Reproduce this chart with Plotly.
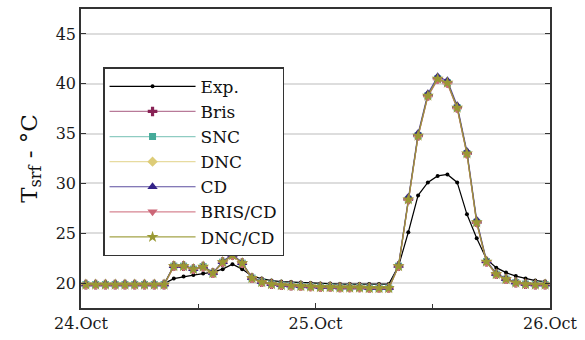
import pandas as pd
import plotly.graph_objects as go

# hourly samples (half-hour centred) from 24 Oct 00:30 to 25 Oct 23:30
times = pd.date_range("2023-10-24 00:30", periods=48, freq="h")

exp = [19.95]*9 + [20.45, 20.65, 20.8, 20.95, 21.1, 21.4, 21.9, 21.4, 20.7, 20.45,
       20.25, 20.15, 20.1, 20.05, 20.0, 19.95, 19.95, 19.9, 19.9, 19.9, 19.9, 19.9, 19.9,
       21.7, 25.1, 28.8, 30.1, 30.75, 30.9, 30.1, 26.9, 24.5, 22.4, 21.55, 21.05, 20.7,
       20.45, 20.25, 20.15]

bris = [19.85]*9 + [21.7, 21.7, 21.4, 21.65, 21.0, 22.1, 22.8, 22.0, 20.5, 20.1,
        19.9, 19.8, 19.75, 19.7, 19.65, 19.6, 19.6, 19.55, 19.55, 19.55, 19.5, 19.5, 19.5,
        21.7, 28.4, 34.8, 38.8, 40.5, 40.1, 37.6, 33.0, 26.1, 22.15, 20.9, 20.4, 20.05,
        19.9, 19.85, 19.85]
snc = [19.85]*9 + [21.7, 21.7, 21.4, 21.65, 21.0, 22.1, 22.8, 22.0, 20.5, 20.1,
       19.9, 19.8, 19.75, 19.7, 19.65, 19.6, 19.6, 19.55, 19.55, 19.55, 19.5, 19.5, 19.5,
       21.7, 28.4, 34.8, 38.8, 40.5, 40.1, 37.6, 33.0, 26.1, 22.15, 20.9, 20.4, 20.05,
       19.9, 19.85, 19.85]
dnc = [19.85]*9 + [21.7, 21.7, 21.4, 21.65, 21.0, 22.1, 22.8, 22.0, 20.5, 20.1,
       19.9, 19.8, 19.75, 19.7, 19.65, 19.6, 19.6, 19.55, 19.55, 19.55, 19.5, 19.5, 19.5,
       21.7, 28.4, 34.8, 38.8, 40.5, 40.1, 37.6, 33.0, 26.1, 22.15, 20.9, 20.4, 20.05,
       19.9, 19.85, 19.85]
cd = [19.9]*9 + [21.75, 21.75, 21.45, 21.7, 21.05, 22.15, 22.9, 22.05, 20.55, 20.15,
      19.95, 19.85, 19.8, 19.75, 19.7, 19.65, 19.65, 19.6, 19.6, 19.6, 19.55, 19.55, 19.55,
      21.8, 28.6, 35.0, 39.0, 40.7, 40.3, 37.8, 33.2, 26.3, 22.25, 20.95, 20.45, 20.1,
      19.95, 19.9, 19.9]
bris_cd = [19.8]*9 + [21.65, 21.65, 21.35, 21.6, 20.95, 22.05, 22.75, 21.95, 20.45, 20.05,
           19.85, 19.75, 19.7, 19.65, 19.6, 19.55, 19.55, 19.5, 19.5, 19.5, 19.45, 19.45, 19.45,
           21.65, 28.3, 34.7, 38.7, 40.4, 40.0, 37.5, 32.9, 26.0, 22.1, 20.85, 20.35, 20.0,
           19.85, 19.8, 19.8]
dnc_cd = [19.85]*9 + [21.7, 21.7, 21.4, 21.65, 21.0, 22.1, 22.8, 22.0, 20.5, 20.1,
          19.9, 19.8, 19.75, 19.7, 19.65, 19.6, 19.6, 19.55, 19.55, 19.55, 19.5, 19.5, 19.5,
          21.7, 28.4, 34.8, 38.8, 40.5, 40.1, 37.6, 33.0, 26.1, 22.15, 20.9, 20.4, 20.05,
          19.9, 19.85, 19.85]

series = [
    ("Exp.", exp, "#000000", "rgba(0,0,0,1)", "circle", 4),
    ("Bris", bris, "#882255", "rgba(136,34,85,0.6)", "cross", 8),
    ("SNC", snc, "#44AA99", "rgba(68,170,153,0.6)", "square", 7),
    ("DNC", dnc, "#DDCC77", "rgba(221,204,119,0.7)", "diamond", 8),
    ("CD", cd, "#332288", "rgba(51,34,136,0.8)", "triangle-up", 9),
    ("BRIS/CD", bris_cd, "#CC6677", "rgba(204,102,119,0.8)", "triangle-down", 9),
    ("DNC/CD", dnc_cd, "#999933", "rgba(153,153,51,0.9)", "star", 9),
]

fig = go.Figure()
for name, vals, mc, lc, sym, sz in series:
    fig.add_trace(go.Scatter(
        x=times, y=vals, name=name, mode="lines+markers",
        line=dict(color=lc, width=1.2),
        marker=dict(color=mc, symbol=sym, size=sz, line=dict(width=0)),
    ))

font_family = "DejaVu Serif"
fig.update_layout(
    width=585, height=340,
    margin=dict(l=81, r=35, t=7, b=30),
    paper_bgcolor="white", plot_bgcolor="white",
    font=dict(family=font_family, size=16, color="#1a1a1a"),
    showlegend=True,
    legend=dict(
        x=0.047, y=0.805, xanchor="left", yanchor="top",
        bgcolor="white", bordercolor="#333333", borderwidth=1.5,
        font=dict(family=font_family, size=17, color="#111111"),
        itemwidth=86, tracegroupgap=0,
    ),
)
fig.update_xaxes(
    range=[pd.Timestamp("2023-10-24"), pd.Timestamp("2023-10-26")],
    tickvals=[pd.Timestamp("2023-10-24"), pd.Timestamp("2023-10-25"), pd.Timestamp("2023-10-26")],
    ticktext=["24.Oct", "25.Oct", "26.Oct"],
    ticks="inside", ticklen=5, tickcolor="#333333",
    minor=dict(tickvals=[pd.Timestamp("2023-10-24 12:00"), pd.Timestamp("2023-10-25 12:00")],
               ticks="inside", ticklen=4, tickcolor="#333333"),
    showline=True, linecolor="#333333", linewidth=1.5, mirror=True,
    showgrid=False, zeroline=False,
)
fig.update_yaxes(
    range=[17.5, 47.5],
    tickvals=[20, 25, 30, 35, 40, 45],
    ticks="inside", ticklen=5, tickcolor="#333333",
    showline=True, linecolor="#333333", linewidth=1.5, mirror="ticks",
    showgrid=True, gridcolor="#dddddd", gridwidth=1.5, zeroline=False,
    title=dict(text="T<sub>srf</sub> - °C", font=dict(family=font_family, size=23, color="#111111"),
               standoff=12),
)

fig.write_html("out.html")
